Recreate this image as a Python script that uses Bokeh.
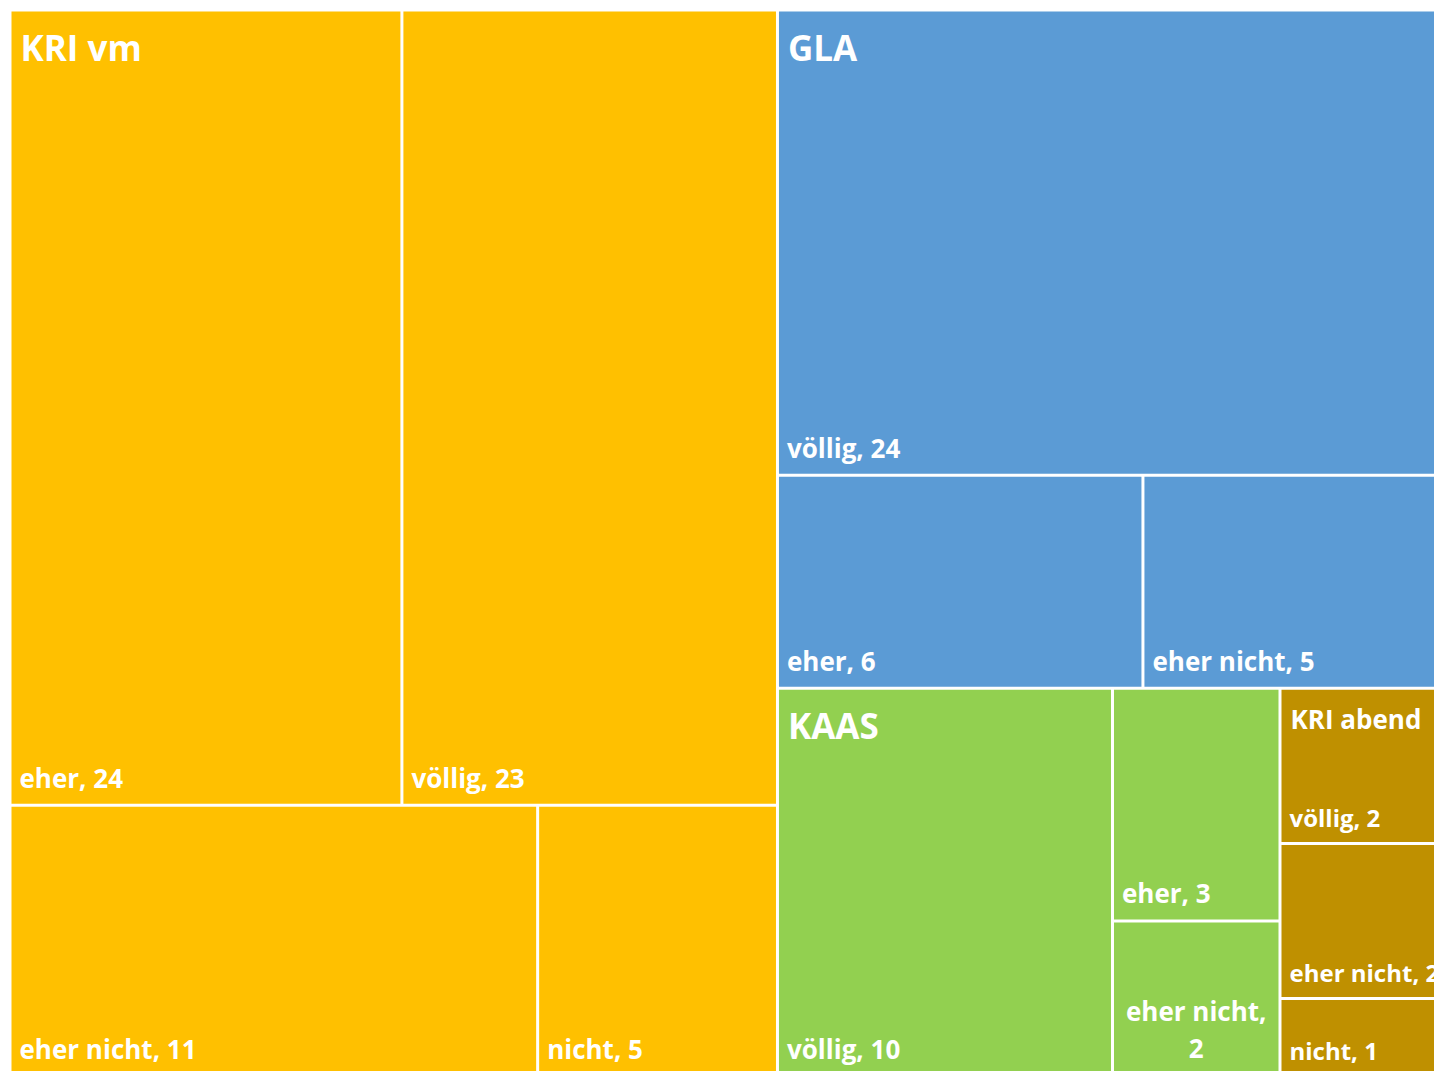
from bokeh.plotting import figure
from bokeh.models import Range1d, ColumnDataSource
from bokeh.core.properties import value
from bokeh.embed import file_html
from bokeh.resources import INLINE

# ---------------- data ----------------
groups = ["KRI vm", "GLA", "KAAS", "KRI abend"]
leaf_group = ["KRI vm", "KRI vm", "KRI vm", "KRI vm",
              "GLA", "GLA", "GLA",
              "KAAS", "KAAS", "KAAS",
              "KRI abend", "KRI abend", "KRI abend"]
leaf_answer = ["eher", "völlig", "eher nicht", "nicht",
               "völlig", "eher", "eher nicht",
               "völlig", "eher", "eher nicht",
               "völlig", "eher nicht", "nicht"]
leaf_count = [24, 23, 11, 5,
              24, 6, 5,
              10, 3, 2,
              2, 2, 1]

# ---------------- style ----------------
group_colors = {"KRI vm": "#FFC000", "GLA": "#5B9BD5",
                "KAAS": "#92D050", "KRI abend": "#BF9000"}
FONT = "Open Sans"
PAGE_W, PAGE_H = 1434, 1071
AREA_X, AREA_Y, AREA_W, AREA_H = 9.5, 9.5, 1437.5, 1066.0
GAP = 1.5          # half of the white gap between tiles
TOL = 1.15         # tolerance of the squarified layout
TITLE_MAX = 35.0
LEAF_SIZE = 26.0
BASE_FIX = 0.4     # em shift of the drawn baseline

CHAR_EM = {" ": 0.26, ",": 0.275, "A": 0.71, "G": 0.72, "K": 0.664, "R": 0.669,
           "I": 0.326, "S": 0.535, "a": 0.605, "b": 0.636, "c": 0.518, "d": 0.636,
           "e": 0.595, "g": 0.56, "h": 0.669, "i": 0.305, "l": 0.305, "n": 0.669,
           "o": 0.623, "ö": 0.623, "r": 0.458, "t": 0.434, "v": 0.592, "m": 1.015}


def text_em(s):
    return sum(CHAR_EM.get(ch, 0.572 if ch.isdigit() else 0.6) for ch in s)


# ---------------- squarified layout ----------------
def worst(row, length):
    s = sum(row)
    thick = s / length
    r = 0.0
    for a in row:
        side = a / thick
        r = max(r, side / thick, thick / side)
    return r


def squarify(vals, x, y, w, h):
    total = sum(vals)
    areas = [v / total * w * h for v in vals]
    rects = []
    i = 0
    while i < len(areas):
        short = min(w, h)
        row = [areas[i]]
        j = i + 1
        while j < len(areas):
            cand = row + [areas[j]]
            if worst(cand, short) <= worst(row, short) * TOL:
                row = cand
                j += 1
            else:
                break
        s = sum(row)
        if w >= h:
            cw = s / h
            yy = y
            for a in row:
                hh = a / cw
                rects.append((x, yy, cw, hh))
                yy += hh
            x += cw
            w -= cw
        else:
            ch = s / w
            xx = x
            for a in row:
                ww = a / ch
                rects.append((xx, y, ww, ch))
                xx += ww
            y += ch
            h -= ch
        i = j
    return rects


group_totals = [sum(c for g, c in zip(leaf_group, leaf_count) if g == grp) for grp in groups]
group_rects = squarify(group_totals, AREA_X, AREA_Y, AREA_W, AREA_H)

L, R, T, B, C = [], [], [], [], []
texts = {}  # (size, align) -> dict of lists


def add_text(size, align, x, y, t):
    key = (round(size, 1), align)
    d = texts.setdefault(key, {"x": [], "y": [], "t": []})
    d["x"].append(x)
    d["y"].append(y - BASE_FIX * size)
    d["t"].append(t)


for grp, (gx, gy, gw, gh) in zip(groups, group_rects):
    idx = [k for k, g in enumerate(leaf_group) if g == grp]
    vals = [leaf_count[k] for k in idx]
    rects = squarify(vals, gx, gy, gw, gh)
    tiles = [(x + GAP, x + w - GAP, y + GAP, y + h - GAP) for (x, y, w, h) in rects]
    for (l, r, t, b) in tiles:
        L.append(l); R.append(r); T.append(t); B.append(b)
        C.append(group_colors[grp])
    # group title in the first tile
    fl, fr, ft, fb = tiles[0]
    tsize = min(TITLE_MAX, 0.8 * (fr - fl) / text_em(grp))
    add_text(tsize, "left", fl + 9, ft + 8 + 1.2 * tsize, grp)
    lsize = min(LEAF_SIZE, round(tsize * 0.92))
    for k, (l, r, t, b) in zip(idx, tiles):
        label = f"{leaf_answer[k]}, {leaf_count[k]}"
        base = b - 0.6 * lsize
        if text_em(label) * lsize > (r - l) - 10:
            head, tail = label.rsplit(" ", 1)
            cx = (l + r) / 2
            add_text(lsize, "center", cx, base - 1.46 * lsize, head)
            add_text(lsize, "center", cx, base, tail)
        else:
            add_text(lsize, "left", l + 8, base, label)

# ---------------- figure ----------------
p = figure(width=PAGE_W, height=PAGE_H, x_range=Range1d(0, PAGE_W), y_range=Range1d(PAGE_H, 0),
           x_axis_type=None, y_axis_type=None, min_border=0,
           output_backend="svg", toolbar_location=None)
p.outline_line_color = None
p.background_fill_color = "white"
p.border_fill_color = "white"

p.quad(left=L, right=R, top=T, bottom=B, fill_color=C, line_color=None)

for (size, align), d in texts.items():
    src = ColumnDataSource(dict(x=d["x"], y=d["y"], t=d["t"]))
    p.text(x="x", y="y", text="t", source=src, text_font=value(FONT),
           text_font_style="bold", text_font_size=f"{size}px", text_color="white",
           text_align=align, text_baseline="alphabetic")

with open("out.html", "w", encoding="utf-8") as f:
    f.write(file_html(p, INLINE))
